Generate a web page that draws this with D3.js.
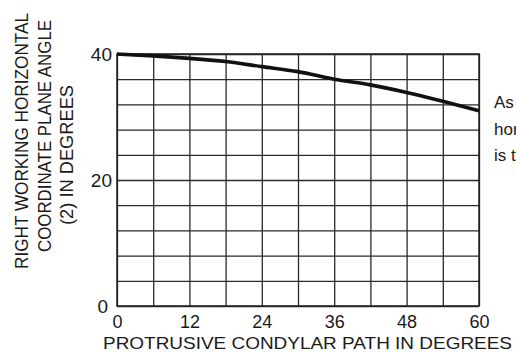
<!DOCTYPE html>
<html>
<head>
<meta charset="utf-8">
<script src="https://cdn.jsdelivr.net/npm/d3@7"></script>
<style>
  body { margin: 0; background: #fff; }
  svg { display: block; }
  text { font-family: "Liberation Sans", Arial, sans-serif; fill: #1a1a1a; }
</style>
</head>
<body>
<svg id="chart" width="516" height="352"></svg>
<script>
// values
const pathDeg = [0, 6, 12, 18, 24, 30, 36, 42, 48, 54, 60];
const planeAngle = [40, 39.7, 39.3, 38.8, 38.0, 37.2, 36.0, 35.1, 33.9, 32.5, 31.0];
const xTickLabels = [0, 12, 24, 36, 48, 60];
const yTickLabels = [0, 20, 40];
const xGrid = d3.range(0, 61, 6);
const yGrid = d3.range(0, 41, 4);
const yTitleLines = ['RIGHT WORKING HORIZONTAL', 'COORDINATE PLANE ANGLE', '(2) IN DEGREES'];
const noteLines = ['As the', 'horizontal', 'is the'];

const svg = d3.select('#chart');
const plotL = 117, plotR = 479, plotT = 54, plotB = 306;

const x = d3.scaleLinear().domain([0, 60]).range([plotL, plotR]);
const y = d3.scaleLinear().domain([0, 40]).range([plotB, plotT]);

// grid
const gx = svg.append('g')
  .attr('transform', `translate(0,${plotB})`)
  .call(d3.axisBottom(x).tickValues(xGrid).tickFormat('').tickSize(-(plotB - plotT)));
const gy = svg.append('g')
  .attr('transform', `translate(${plotL},0)`)
  .call(d3.axisLeft(y).tickValues(yGrid).tickFormat('').tickSize(-(plotR - plotL)));
[gx, gy].forEach((g) => {
  g.select('.domain').remove();
  g.selectAll('line').attr('stroke', '#2a2a2a').attr('stroke-width', 1.3);
});

// frame
svg.append('rect')
  .attr('x', plotL).attr('y', plotT)
  .attr('width', plotR - plotL).attr('height', plotB - plotT)
  .attr('fill', 'none').attr('stroke', '#222').attr('stroke-width', 1.5);

// tick labels
const lx = svg.append('g')
  .attr('transform', `translate(0,${plotB})`)
  .call(d3.axisBottom(x).tickValues(xTickLabels).tickSize(0).tickPadding(8));
lx.select('.domain').remove();
lx.selectAll('text')
  .attr('font-size', 18).attr('fill', '#1a1a1a')
  .attr('font-family', '"Liberation Sans", Arial, sans-serif')
  .attr('dy', '0.75em');

const ly = svg.append('g')
  .attr('transform', `translate(${plotL},0)`)
  .call(d3.axisLeft(y).tickValues(yTickLabels).tickSize(0).tickPadding(5));
ly.select('.domain').remove();
ly.selectAll('text')
  .attr('font-size', 19).attr('fill', '#1a1a1a')
  .attr('font-family', '"Liberation Sans", Arial, sans-serif')
  .attr('dx', (d) => (d === 0 ? -4 : 0));

// curve
const line = d3.line()
  .x((d, i) => x(pathDeg[i]))
  .y((d) => y(d))
  .curve(d3.curveMonotoneX);
svg.append('path')
  .datum(planeAngle)
  .attr('d', line)
  .attr('fill', 'none')
  .attr('stroke', '#111')
  .attr('stroke-width', 3.6)
  .attr('stroke-linecap', 'butt');

// y title
const yTitlePos = [
  { cx: 28, cy: 141, len: 256 },
  { cx: 51, cy: 136, len: 232 },
  { cx: 73, cy: 155, len: 140 },
];
yTitleLines.forEach((s, i) => {
  const p = yTitlePos[i];
  svg.append('text')
    .attr('transform', `translate(${p.cx},${p.cy}) rotate(-90)`)
    .attr('text-anchor', 'middle')
    .attr('font-size', 18)
    .attr('textLength', p.len)
    .attr('lengthAdjust', 'spacingAndGlyphs')
    .text(s);
});

// x title
svg.append('text')
  .attr('x', 103).attr('y', 349)
  .attr('font-size', 17)
  .attr('textLength', 409)
  .attr('lengthAdjust', 'spacingAndGlyphs')
  .text('PROTRUSIVE CONDYLAR PATH IN DEGREES');

// side note, cut by the page edge as in the original
noteLines.forEach((s, i) => {
  svg.append('text')
    .attr('x', 494).attr('y', 108 + i * 26.5)
    .attr('font-size', 17)
    .text(s);
});
</script>
</body>
</html>
